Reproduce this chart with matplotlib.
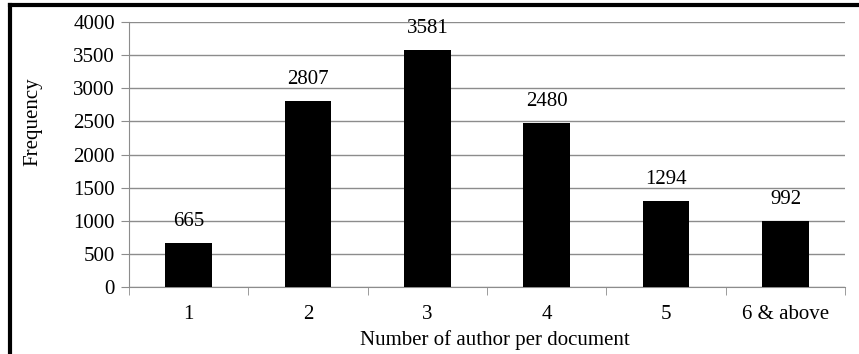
import numpy as np
import matplotlib.pyplot as plt
from matplotlib.lines import Line2D

categories = ["1", "2", "3", "4", "5", "6 & above"]
frequency = [665, 2807, 3581, 2480, 1294, 992]
y_ticks = [0, 500, 1000, 1500, 2000, 2500, 3000, 3500, 4000]

plt.rcParams["font.family"] = ["Liberation Serif", "DejaVu Serif"]
plt.rcParams["font.size"] = 15

fig = plt.figure(figsize=(8.59, 3.54), dpi=100)
ax = fig.add_axes([0.150, 0.189, 0.834, 0.749])

x = np.arange(len(categories))
ax.bar(x, frequency, width=0.39, color="black", zorder=3)
for xi, v in zip(x, frequency):
    ax.annotate(str(v), (xi, v), xytext=(0, 15.5), textcoords="offset points",
                ha="center", va="center")

ax.set_xlim(-0.5, len(categories) - 0.5)
ax.set_ylim(0, 4000)
ax.set_yticks(y_ticks)
ax.set_xticks(x)
ax.set_xticklabels(categories)
ax.set_xticks(np.arange(len(categories) + 1) - 0.5, minor=True)

ax.grid(axis="y", color="#8c8c8c", linewidth=1, zorder=0)
for s in ["top", "right"]:
    ax.spines[s].set_visible(False)
for s in ["left", "bottom"]:
    ax.spines[s].set_color("#8c8c8c")
ax.tick_params(axis="y", length=6, color="#8c8c8c", pad=4)
ax.tick_params(axis="x", which="major", length=0, pad=13)
ax.tick_params(axis="x", which="minor", length=6, color="#8c8c8c")

fig.text(495 / 859, 1 - 340 / 354, "Number of author per document", ha="center", va="center")
fig.text(33 / 859, 1 - 122 / 354, "Frequency", rotation=90, ha="center", va="center")

# frame edges along the left and top of the figure
bx, by = 10 / 859, 1 - 4.5 / 354
fig.lines.append(Line2D([bx, bx], [0, by], transform=fig.transFigure, color="black", linewidth=3))
fig.lines.append(Line2D([bx, 1], [by, by], transform=fig.transFigure, color="black", linewidth=3))

fig.savefig("out.png", dpi=100)
